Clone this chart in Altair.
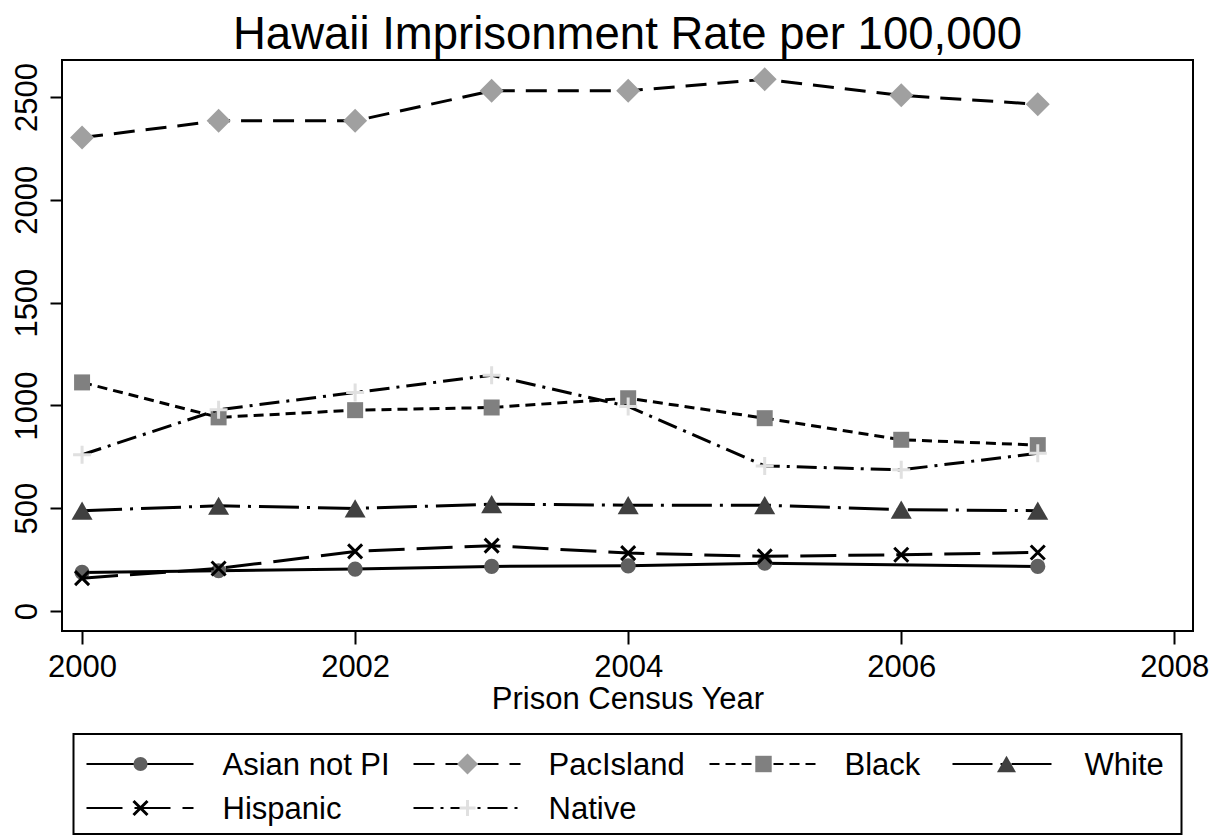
import altair as alt
import pandas as pd

# ---------------- data ----------------
YEARS = [2000, 2001, 2002, 2003, 2004, 2005, 2006, 2007]
SERIES = ["Asian not PI", "PacIsland", "Black", "White", "Hispanic", "Native"]
ASIAN = [188, 196, 204, 217, 220, 233, None, 217]
PACISLAND = [2303, 2384, 2384, 2530, 2530, 2586, 2508, 2465]
BLACK = [1112, 942, 977, 990, 1035, 938, 833, 807]
WHITE = [488, 512, 499, 520, 515, 515, 493, 488]
HISPANIC = [160, 207, 290, 318, 282, 266, 274, 285]
NATIVE = [760, 979, 1063, 1147, 995, 706, 687, 767]
X_TICKS = [2000, 2002, 2004, 2006, 2008]
Y_TICKS = [0, 500, 1000, 1500, 2000, 2500]
TITLE = "Hawaii Imprisonment Rate per 100,000"
X_TITLE = "Prison Census Year"

VALUES = [ASIAN, PACISLAND, BLACK, WHITE, HISPANIC, NATIVE]

# ---------------- styles ----------------
FONT = "Liberation Sans"
CROSS = "M-1,-1L1,1M-1,1L1,-1"
PLUS = "M0,-1L0,1M-1,0L1,0"
STYLES = {
    "Asian not PI": dict(dash=None, shape="circle", fill="#606060", size=230, lsize=200),
    "PacIsland": dict(dash=[21, 11], shape="diamond", fill="#a0a0a0", size=576, lsize=440),
    "Black": dict(dash=[10, 6], shape="square", fill="#808080", size=256, lsize=270),
    "White": dict(dash=[40, 8, 3, 8], shape="triangle-up", fill="#404040", size=441, lsize=361),
    "Hispanic": dict(dash=[36, 12], shape=CROSS, stroke="#000000", size=196, lsize=196),
    "Native": dict(dash=[20, 7, 3, 7], shape=PLUS, stroke="#e0e0e0", size=324, lsize=256),
}

rows = []
for s, vals in zip(SERIES, VALUES):
    for yr, v in zip(YEARS, vals):
        if v is not None:
            rows.append({"year": yr, "value": v, "series": s})
df = pd.DataFrame(rows)

X_DOMAIN = [1999.853, 2008.137]
Y_DOMAIN = [-97, 2680]

x_enc = alt.X(
    "year:Q",
    scale=alt.Scale(domain=X_DOMAIN, nice=False, zero=False),
    axis=alt.Axis(values=X_TICKS, format="d", title=X_TITLE, grid=False, domain=False,
                  tickSize=13, tickWidth=2, tickColor="black", labelPadding=8,
                  labelFontSize=31, labelFont=FONT, labelColor="black",
                  titleFontSize=31, titleFont=FONT, titleFontWeight="normal",
                  titleColor="black", titlePadding=2),
)
y_enc = alt.Y(
    "value:Q",
    scale=alt.Scale(domain=Y_DOMAIN, nice=False, zero=False),
    axis=alt.Axis(values=Y_TICKS, format="d", title=None, grid=False, domain=False,
                  tickSize=12, tickWidth=2, tickColor="black", labelPadding=14,
                  labelAngle=270, labelAlign="center", labelBaseline="alphabetic",
                  labelFontSize=31, labelFont=FONT, labelColor="black"),
)


def point_kwargs(st, size):
    if "fill" in st:
        return dict(shape=st["shape"], filled=True, color=st["fill"], size=size, opacity=1)
    return dict(shape=st["shape"], filled=False, color=st["stroke"], strokeWidth=3,
                size=size, opacity=1)


base = alt.Chart(df)
layers = []
for s in SERIES:
    st = STYLES[s]
    sub = base.transform_filter(alt.datum.series == s)
    lkw = dict(color="black", strokeWidth=3)
    if st["dash"]:
        lkw["strokeDash"] = st["dash"]
    layers.append(sub.mark_line(**lkw).encode(x=x_enc, y=y_enc))
    layers.append(sub.mark_point(**point_kwargs(st, st["size"])).encode(x=x_enc, y=y_enc))

main = alt.layer(*layers).properties(
    width=1131,
    height=571,
    title=alt.Title(TITLE, fontSize=45.5, font=FONT, fontWeight="normal", anchor="middle",
                    baseline="bottom", offset=-44, color="black"),
)

# ---------------- legend (own small chart) ----------------
LEG_W, LEG_H = 1108, 100
KEY_X0 = [13, 340, 636, 879]
KEY_LEN = 107
KEY_MID = 54
TEXT_X = [149, 475, 771, 1011]
ROW_Y = [30, 74]
N_COLS = 4

leg_rows = []
for i, s in enumerate(SERIES):
    c, r = i % N_COLS, i // N_COLS
    leg_rows.append({"series": s, "x0": KEY_X0[c], "x1": KEY_X0[c] + KEY_LEN,
                     "xm": KEY_X0[c] + KEY_MID, "xt": TEXT_X[c], "y": ROW_Y[r]})
leg_df = pd.DataFrame(leg_rows)

lx = alt.Scale(domain=[0, LEG_W], nice=False, zero=False)
ly = alt.Scale(domain=[0, LEG_H], nice=False, zero=False, reverse=True)
lbase = alt.Chart(leg_df)
leg_layers = []
for s in SERIES:
    st = STYLES[s]
    sub = lbase.transform_filter(alt.datum.series == s)
    rkw = dict(color="black", strokeWidth=2)
    if st["dash"]:
        rkw["strokeDash"] = st["dash"]
    leg_layers.append(sub.mark_rule(**rkw).encode(
        x=alt.X("x0:Q", scale=lx, axis=None), x2="x1:Q",
        y=alt.Y("y:Q", scale=ly, axis=None)))
    leg_layers.append(sub.mark_point(**point_kwargs(st, st["lsize"])).encode(
        x=alt.X("xm:Q", scale=lx, axis=None), y=alt.Y("y:Q", scale=ly, axis=None)))
    leg_layers.append(sub.mark_text(align="left", baseline="middle", fontSize=31, font=FONT,
                                    color="black", dy=2).encode(
        x=alt.X("xt:Q", scale=lx, axis=None), y=alt.Y("y:Q", scale=ly, axis=None),
        text="series:N"))

legend = alt.layer(*leg_layers).properties(width=LEG_W, height=LEG_H)

chart = alt.vconcat(main, legend, spacing=103, center=True, bounds="flush").properties(
    padding={"left": 2, "top": 3, "right": 0, "bottom": 0},
    autosize=alt.AutoSizeParams(type="pad"),
    background="white",
).configure_view(stroke="black", strokeWidth=2)

chart.save("out.html", embed_options={"renderer": "svg", "actions": False})
